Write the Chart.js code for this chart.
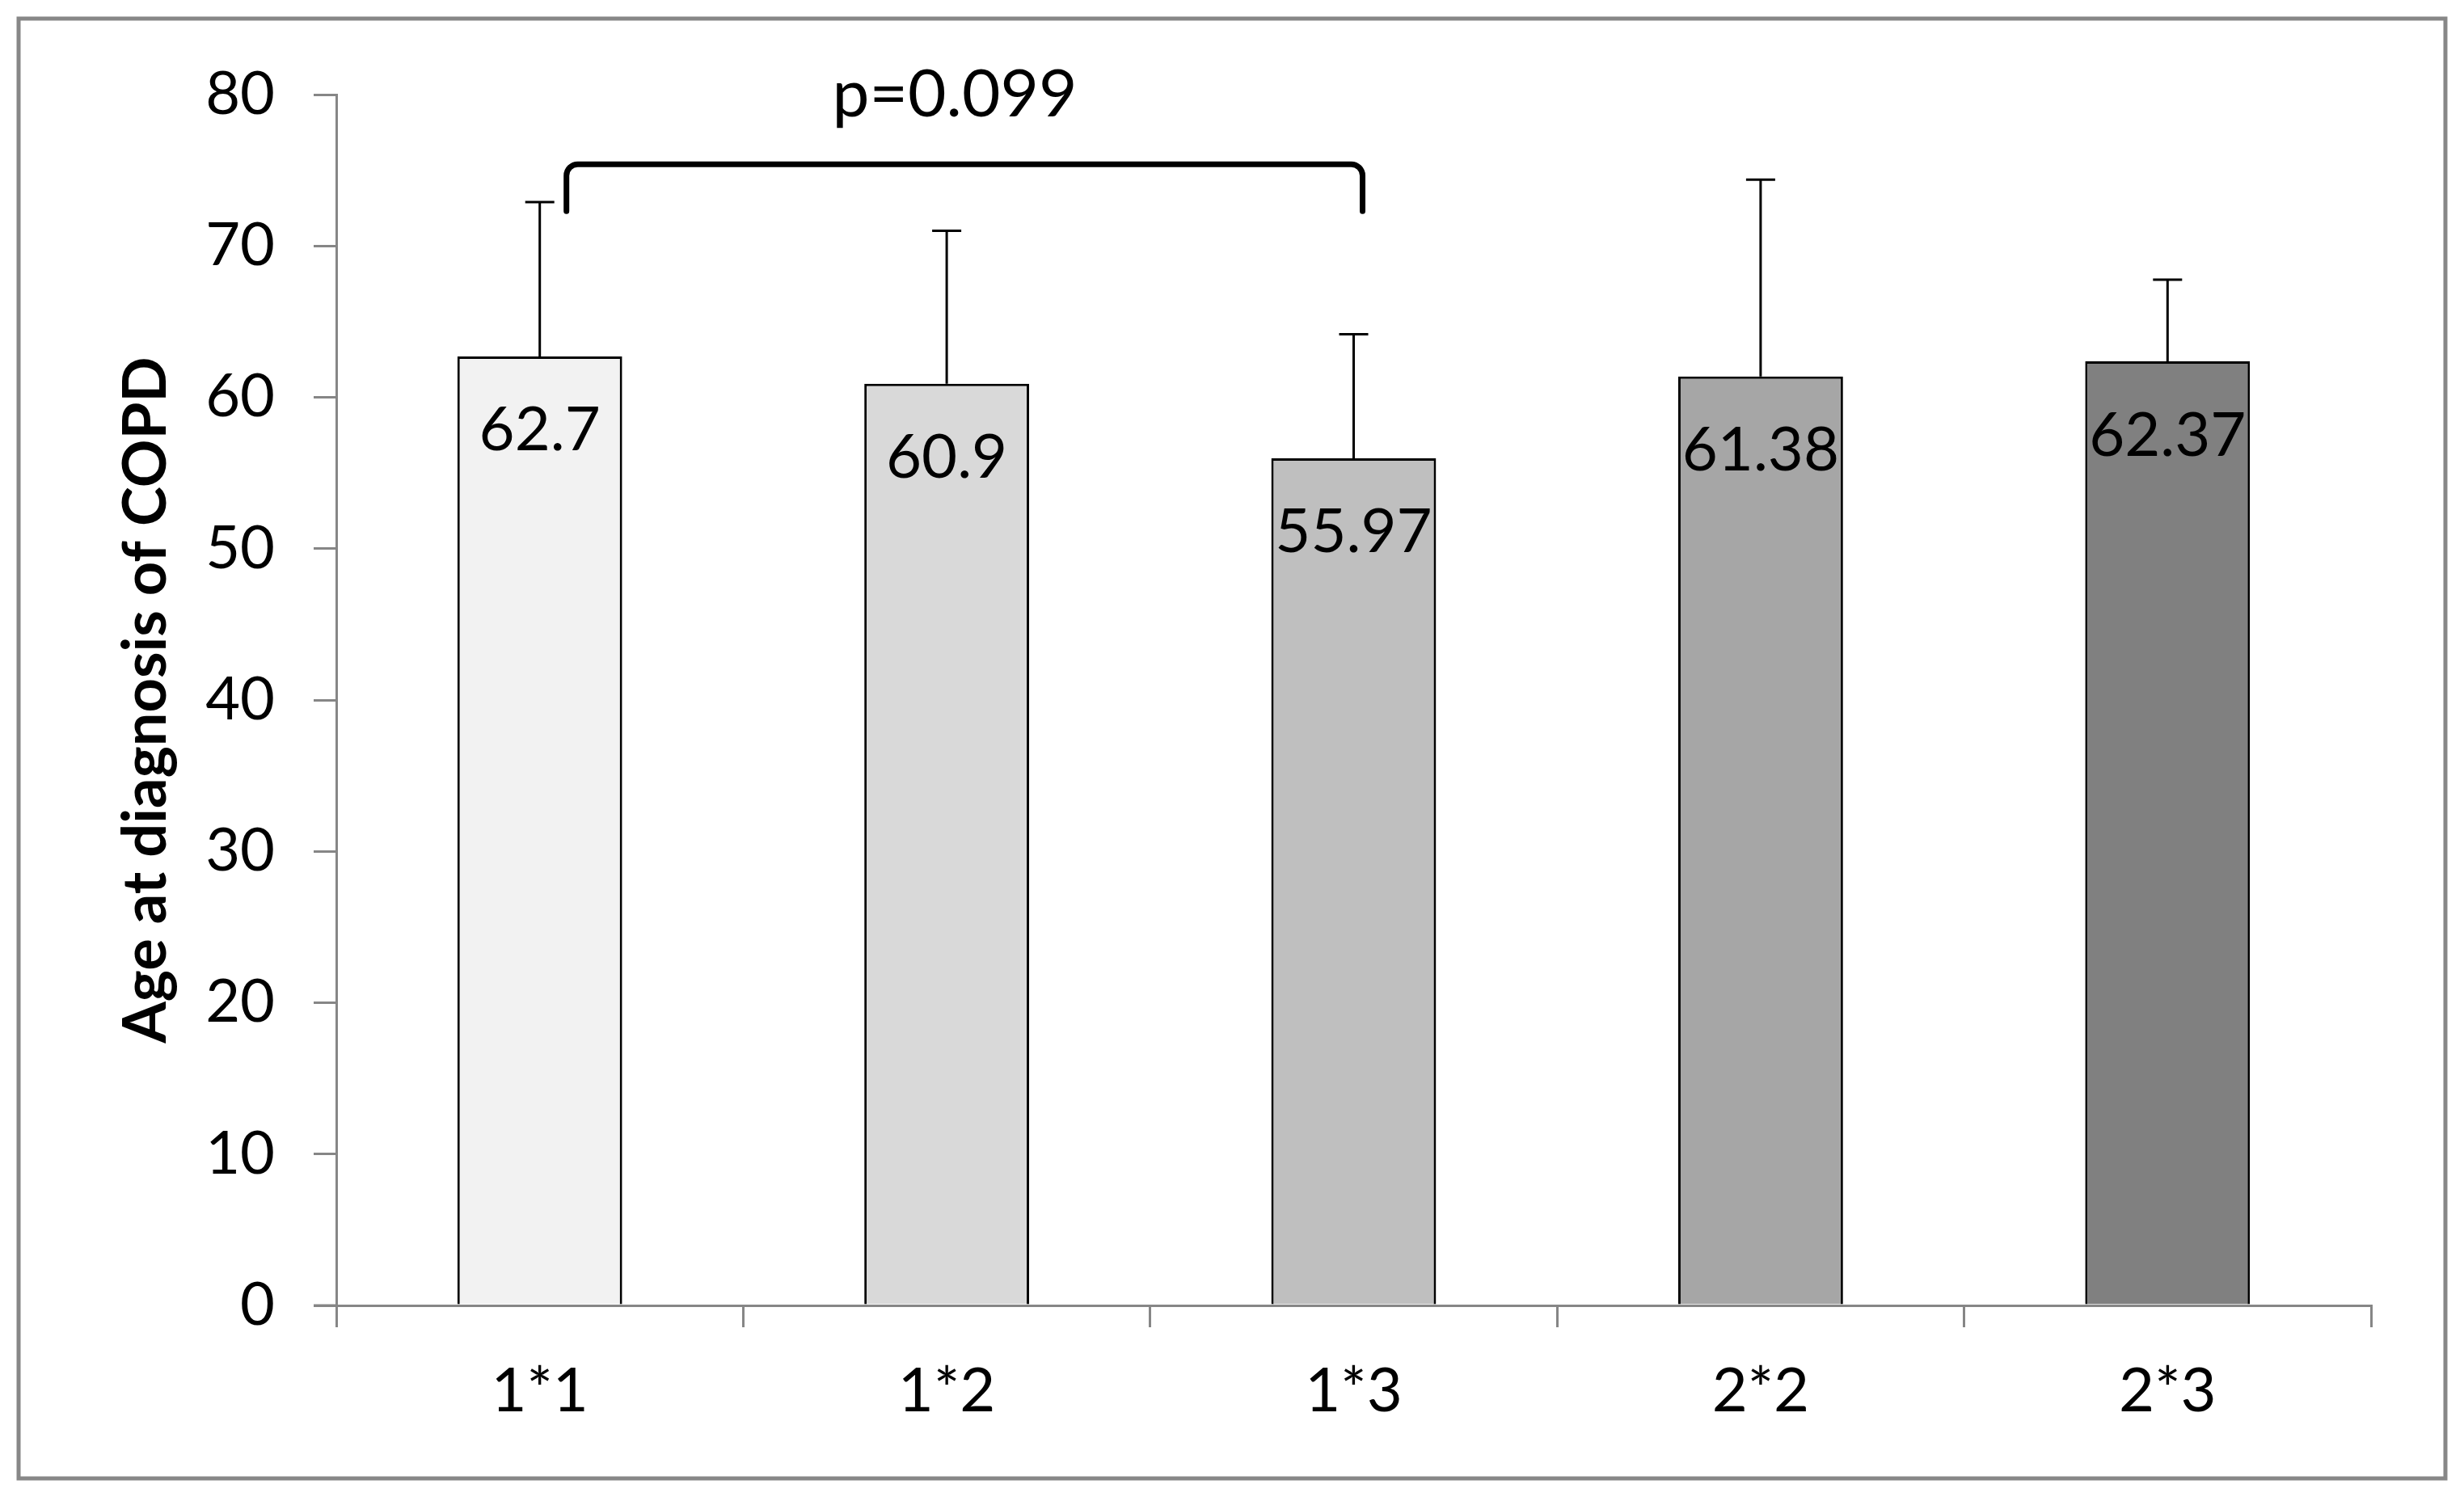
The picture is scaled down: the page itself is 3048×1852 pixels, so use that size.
<!DOCTYPE html>
<html>
<head>
<meta charset="utf-8">
<script src="https://cdn.jsdelivr.net/npm/chart.js@4.4.0/dist/chart.umd.min.js"></script>
<style>
  html, body { margin: 0; padding: 0; background: #fff; }
</style>
</head>
<body>
<canvas id="copdChart" width="3048" height="1852"></canvas>
<script>
// data
const categories = ["1*1", "1*2", "1*3", "2*2", "2*3"];
const meanAge = [62.7, 60.9, 55.97, 61.38, 62.37];
const sdAge = [10.2, 10.1, 8.2, 13.0, 5.4];
const barColors = ["#f2f2f2", "#d9d9d9", "#bfbfbf", "#a6a6a6", "#808080"];
const yTicks = [0, 10, 20, 30, 40, 50, 60, 70, 80];
const pText = "p=0.099";
const pPair = [0, 2];        // categories joined by the bracket
const bracketLevel = 75.4;   // value of the bracket's top line
const bracketFoot = 72.3;    // value its ends reach down to

const FONT = "Lato";
const AXIS_GREY = "#868686";

// white page + grey frame
const framePlugin = {
  id: "frame",
  beforeDraw(chart) {
    const c = chart.ctx;
    c.save();
    c.fillStyle = "#fff";
    c.fillRect(0, 0, chart.width, chart.height);
    c.strokeStyle = "#878787";
    c.lineWidth = 5;
    c.strokeRect(23, 23, chart.width - 46, chart.height - 46);
    c.restore();
  }
};

// upper error bars, value labels, bracket with p value
const extrasPlugin = {
  id: "extras",
  afterDatasetsDraw(chart) {
    const c = chart.ctx;
    const y = chart.scales.y;
    const bars = chart.getDatasetMeta(0).data;
    c.save();

    // x axis line runs on past the y axis to the end of the 0 tick
    c.strokeStyle = AXIS_GREY;
    c.lineWidth = 3;
    c.beginPath();
    c.moveTo(chart.chartArea.left - 28, y.getPixelForValue(0));
    c.lineTo(chart.chartArea.left, y.getPixelForValue(0));
    c.stroke();

    // error bars (upper only)
    c.strokeStyle = "#000";
    c.lineWidth = 3;
    bars.forEach((bar, i) => {
      const top = y.getPixelForValue(meanAge[i] + sdAge[i]);
      c.beginPath();
      c.moveTo(bar.x, bar.y);
      c.lineTo(bar.x, top);
      c.moveTo(bar.x - 18, top);
      c.lineTo(bar.x + 18, top);
      c.stroke();
    });

    // value labels inside the bars
    c.fillStyle = "#000";
    c.font = "76px " + FONT;
    c.textAlign = "center";
    c.textBaseline = "middle";
    bars.forEach((bar, i) => {
      c.fillText(String(meanAge[i]), bar.x, bar.y + 92);
    });

    // bracket
    const x0 = bars[pPair[0]].x + 33;
    const x1 = bars[pPair[1]].x + 11;
    const yb = y.getPixelForValue(bracketLevel);
    const yf = y.getPixelForValue(bracketFoot);
    const r = 14;
    c.lineWidth = 7;
    c.lineJoin = "round";
    c.lineCap = "round";
    c.beginPath();
    c.moveTo(x0, yf);
    c.arcTo(x0, yb, x0 + r, yb, r);
    c.lineTo(x1 - r, yb);
    c.arcTo(x1, yb, x1, yf, r);
    c.lineTo(x1, yf);
    c.stroke();

    c.font = "82px " + FONT;
    c.fillText(pText, (x0 + x1) / 2 - 12, yb - 86);
    c.restore();
  }
};

new Chart(document.getElementById("copdChart").getContext("2d"), {
  type: "bar",
  data: {
    labels: categories,
    datasets: [{
      data: meanAge,
      backgroundColor: barColors,
      borderColor: "#000",
      borderWidth: 3,
      barPercentage: 0.405,
      categoryPercentage: 1.0
    }]
  },
  options: {
    responsive: false,
    animation: false,
    devicePixelRatio: 1,
    layout: { padding: { top: 117, right: 115, bottom: 0, left: 0 } },
    plugins: {
      legend: { display: false },
      tooltip: { enabled: false }
    },
    scales: {
      x: {
        grid: {
          offset: true,
          drawOnChartArea: false,
          drawTicks: true,
          tickLength: 27,
          color: AXIS_GREY,
          lineWidth: 3
        },
        border: { color: AXIS_GREY, width: 3 },
        ticks: { color: "#000", font: { family: FONT, size: 76 }, padding: 34 },
        afterFit(scale) { scale.height = 237; }
      },
      y: {
        min: 0,
        max: 80,
        afterBuildTicks(scale) { scale.ticks = yTicks.map(v => ({ value: v })); },
        grid: {
          drawOnChartArea: false,
          drawTicks: true,
          tickLength: 28,
          color: AXIS_GREY,
          lineWidth: 3
        },
        border: { color: AXIS_GREY, width: 3 },
        ticks: { color: "#000", font: { family: FONT, size: 74 }, padding: 48 },
        title: {
          display: true,
          text: "Age at diagnosis of COPD",
          color: "#000",
          font: { family: FONT, size: 74, weight: "bold" },
          padding: { top: 137, bottom: 0 }
        },
        afterFit(scale) { scale.width = 416; }
      }
    }
  },
  plugins: [framePlugin, extrasPlugin]
});
</script>
</body>
</html>
